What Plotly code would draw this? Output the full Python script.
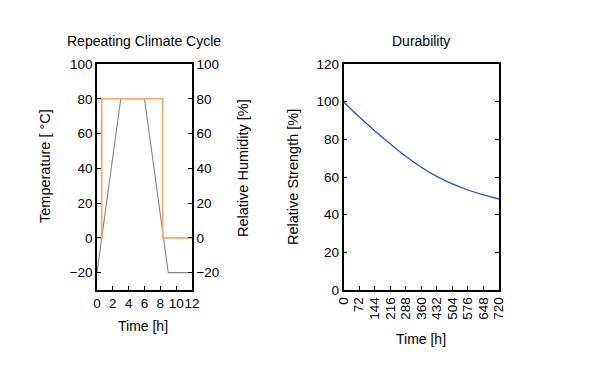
import plotly.graph_objects as go

# Climate cycle data
temp_time = [0, 3, 6, 9, 12]
temp_vals = [-20, 80, 80, -20, -20]
hum_time = [0, 0.6, 0.6, 8.3, 8.3, 12]
hum_vals = [0, 0, 80, 80, 0, 0]

# Durability data
dur_time = [0, 72, 144, 216, 288, 360, 432, 504, 576, 648, 720]
dur_vals = [100, 92.0, 84.6, 77.6, 71.0, 65.2, 60.3, 56.3, 53.1, 50.5, 48.3]

left_ticks = [0, 2, 4, 6, 8, 10, 12]
right_ticks = [0, 72, 144, 216, 288, 360, 432, 504, 576, 648, 720]

W, H = 616, 368
FONT = "Liberation Sans, Arial, sans-serif"

def px(x):
    return x / W

def py(y):
    return 1 - y / H

fig = go.Figure()
fig.add_trace(go.Scatter(x=temp_time, y=temp_vals, mode="lines",
                         line=dict(color="#858585", width=1.1),
                         xaxis="x", yaxis="y", showlegend=False, hoverinfo="skip"))
fig.add_trace(go.Scatter(x=hum_time, y=hum_vals, mode="lines",
                         line=dict(color="#f6a862", width=1.6),
                         xaxis="x", yaxis="y2", showlegend=False, hoverinfo="skip"))
fig.add_trace(go.Scatter(x=dur_time, y=dur_vals, mode="lines",
                         line=dict(color="#2455c3", width=1.3, shape="spline"),
                         xaxis="x2", yaxis="y3", showlegend=False, hoverinfo="skip"))

ydom = [py(290), py(64)]
axcommon = dict(showgrid=False, zeroline=False, showline=True, linecolor="black",
                linewidth=1.5, ticks="inside", ticklen=4, tickcolor="black",
                automargin=False,
                tickfont=dict(family=FONT, size=13.5, color="black"))

fig.update_layout(
    width=W, height=H,
    margin=dict(l=0, r=0, t=0, b=0, pad=0),
    showlegend=False,
    paper_bgcolor="white", plot_bgcolor="white",
    font=dict(family=FONT, color="black"),
    xaxis=dict(domain=[px(97), px(192)], range=[0, 12], tickvals=left_ticks,
               tickangle=0, anchor="y", mirror=True, **axcommon),
    yaxis=dict(domain=ydom, range=[-30, 100], tickvals=[-20, 0, 20, 40, 60, 80, 100],
               anchor="x", **axcommon),
    yaxis2=dict(range=[-30, 100], tickvals=[-20, 0, 20, 40, 60, 80, 100],
                overlaying="y", side="right", anchor="x", **axcommon),
    xaxis2=dict(domain=[px(343.5), px(499)], range=[0, 720], tickvals=right_ticks,
                tickangle=-90, anchor="y3", mirror=True, **axcommon),
    yaxis3=dict(domain=ydom, range=[0, 120], tickvals=[0, 20, 40, 60, 80, 100, 120],
                anchor="x2", mirror="ticks", **axcommon),
)

ann = [
    dict(text="Repeating Climate Cycle", x=px(144), y=py(41), size=14, angle=0),
    dict(text="Durability", x=px(421), y=py(41), size=14, angle=0),
    dict(text="Time [h]", x=px(143), y=py(326), size=14, angle=0),
    dict(text="Time [h]", x=px(421), y=py(339), size=14, angle=0),
    dict(text="Temperature [ °C]", x=px(45), y=py(166), size=14.5, angle=-90),
    dict(text="Relative Humidity [%]", x=px(243), y=py(168), size=14.5, angle=-90),
    dict(text="Relative Strength [%]", x=px(293), y=py(177), size=14.5, angle=-90),
]
for a in ann:
    fig.add_annotation(text=a["text"], x=a["x"], y=a["y"], xref="paper", yref="paper",
                       showarrow=False, textangle=a["angle"], xanchor="center",
                       yanchor="middle", font=dict(family=FONT, size=a["size"], color="black"))

fig.write_html("out.html",
               config={"displayModeBar": False},
               post_script="document.body.style.margin='0px';document.body.style.padding='0px';")
